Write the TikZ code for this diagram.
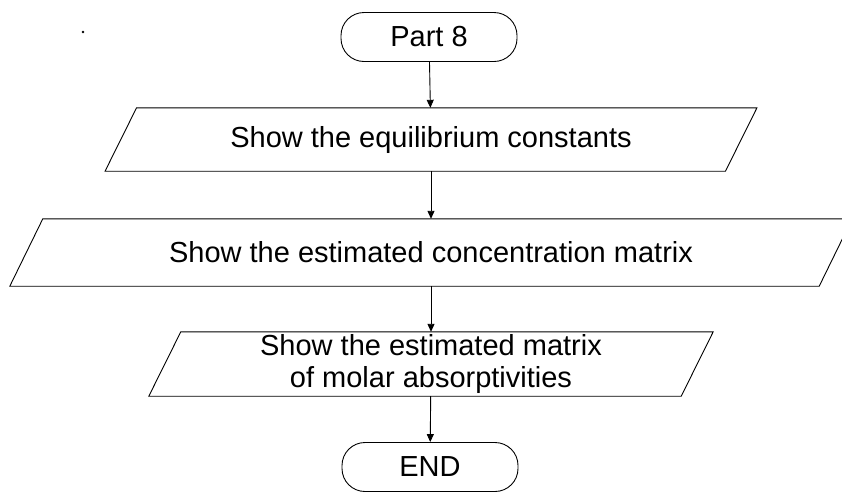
\documentclass[tikz,border=0pt]{standalone}
\usepackage{fontspec}
\setmainfont{Liberation Sans}
\usetikzlibrary{arrows.meta, positioning}

% slanted frame round an output node
\newcommand{\ioframe}[2]{%
  \draw[line width=0.9pt] ([xshift=-#2]#1.south west) -- ([xshift=#2]#1.north west)
    -- ([xshift=#2]#1.north east) -- ([xshift=-#2]#1.south east) -- cycle;}

\begin{document}
\begin{tikzpicture}[x=1pt, y=-1pt,
    terminal/.style={draw, rectangle, rounded corners=23pt, line width=0.9pt,
      minimum width=176pt, minimum height=49pt, inner sep=0pt},
    iobox/.style={rectangle, inner sep=0pt, align=center},
    flow/.style={-{Triangle[length=8pt, width=7pt]}, line width=0.9pt}]
  \useasboundingbox (0,0) rectangle (842,491);
  \fontsize{29}{31.5}\selectfont

  % Start
  \node[terminal] (part) at (429,37) {Part 8};

  % Output steps
  \node[iobox, minimum width=620pt, minimum height=63pt] (eqconst) at (431,139.5)
    {Show the equilibrium constants};
  \node[iobox, minimum width=809pt, minimum height=67pt] (concmat) at (431,252.5)
    {Show the estimated concentration matrix};
  \node[iobox, minimum width=532pt, minimum height=64pt] (absmat) at (431,364)
    {Show the estimated matrix\\of molar absorptivities};
  \ioframe{eqconst}{15.75pt}
  \ioframe{concmat}{16.5pt}
  \ioframe{absmat}{16pt}

  % End
  \node[terminal] (stop) at (430,467) {END};

  % Connectors
  \draw[flow] (part) -- (eqconst);
  \draw[flow] (eqconst) -- (concmat);
  \draw[flow] (concmat) -- (absmat);
  \draw[flow] (absmat) -- (stop);

  \fill (83,32) circle (1.3pt);
\end{tikzpicture}
\end{document}
